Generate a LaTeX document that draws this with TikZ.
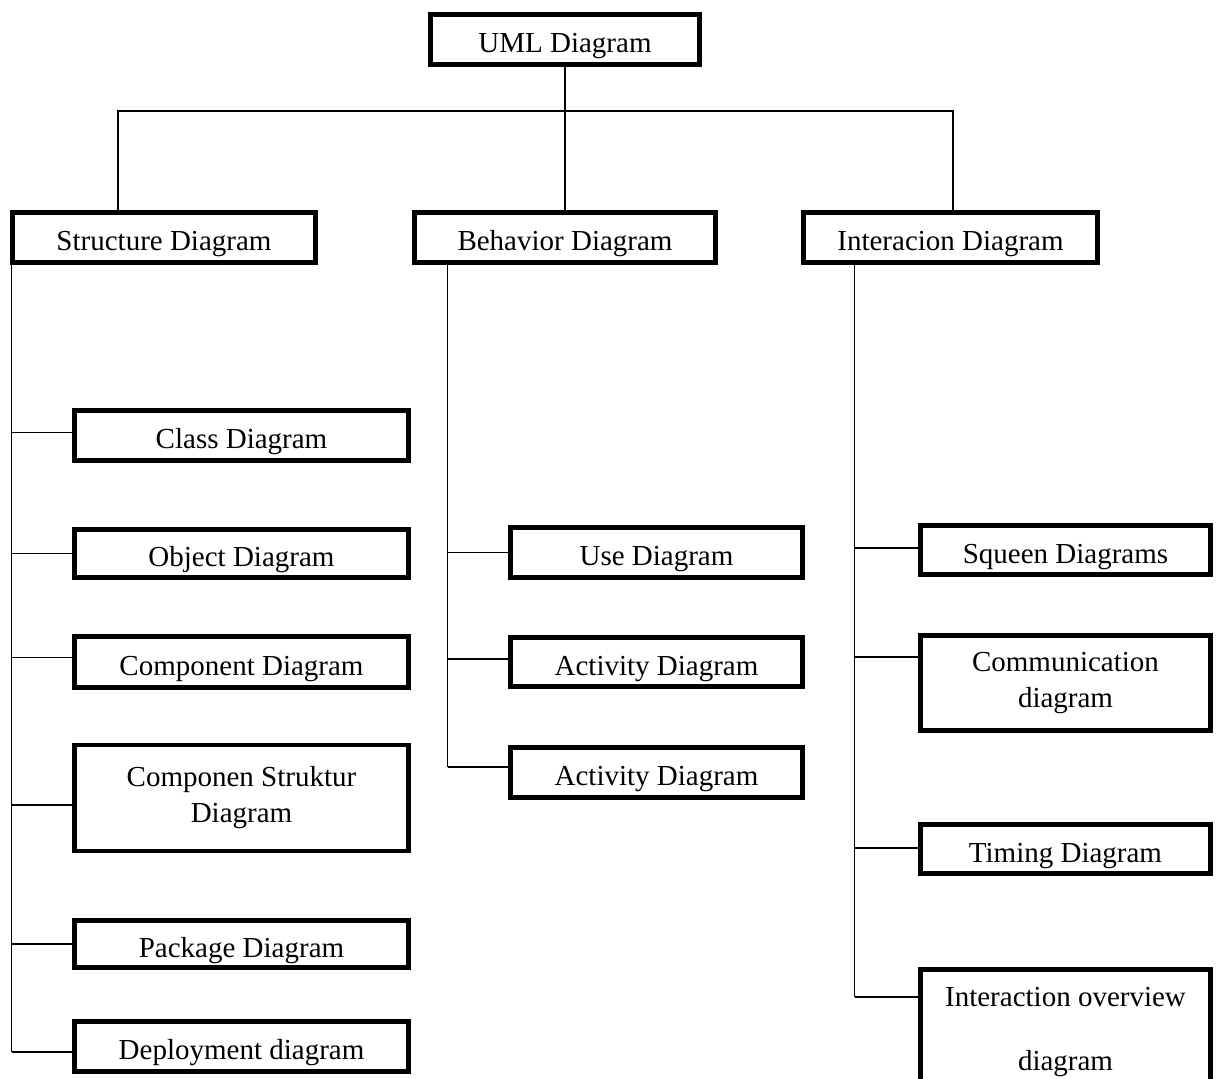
\documentclass[tikz,border=0pt]{standalone}
\usepackage{fontspec}
\setmainfont{Liberation Serif}
\usetikzlibrary{calc}

\begin{document}
\begin{tikzpicture}[x=1pt,y=-1pt,
    box/.style={draw, line width=4.8pt, inner sep=0pt, font=\fontsize{29}{36}\selectfont, text height=29pt, text depth=3pt},
    tallbox/.style={draw, line width=4.8pt, inner sep=0pt, font=\fontsize{29}{36}\selectfont, align=center},
    link/.style={line width=1.7pt}]
    \path[use as bounding box, clip] (0,0) rectangle (1216,1079);
    \def \sx {241.5} \def \bx {656.5} \def \ix {1065.5}

    % top row
    \node[box, minimum width=269pt, minimum height=50pt] (uml) at (565,39.5) {UML Diagram};
    \node[box, minimum width=303pt, minimum height=50pt] (st) at (164,237.5) {Structure Diagram};
    \node[box, minimum width=301pt, minimum height=50pt] (bh) at (565,237.5) {Behavior Diagram};
    \node[box, minimum width=294pt, minimum height=50pt] (ia) at (950.5,237.5) {Interacion Diagram};

    \coordinate (bar) at (565,111);
    \draw[link] (uml) -- (bh);
    \draw[link] ([xshift=-46pt]st.north) |- (bar) -| ([xshift=2.5pt]ia.north);

    % structure
    \node[box, minimum width=334pt, minimum height=50pt] (cl) at (\sx,435.5) {Class Diagram};
    \node[box, minimum width=334pt, minimum height=48pt] (ob) at (\sx,553.5) {Object Diagram};
    \node[box, minimum width=334pt, minimum height=51pt] (cp) at (\sx,662) {Component Diagram};
    \node[tallbox, minimum width=334pt, minimum height=106pt] (cs) at (\sx,798) {Componen Struktur\\Diagram};
    \node[box, minimum width=334pt, minimum height=47pt] (pk) at (\sx,944) {Package Diagram};
    \node[box, minimum width=334pt, minimum height=50pt] (dp) at (\sx,1046.5) {Deployment diagram};

    \foreach \s/\dy in {cl/-3, ob/0, cp/-4.5, cs/7, pk/0, dp/5.5}
        \coordinate (j\s) at ($(\s.west)+(0,\dy)$);
    \draw[link] ([xshift=1.5pt]st.south west) -- ([xshift=1.5pt]st.south west |- jdp);
    \foreach \s in {cl, ob, cp, cs, pk, dp}
        \draw[link] ([xshift=1.5pt]j\s -| st.south west) -- (j\s);

    % behavior
    \node[box, minimum width=292pt, minimum height=50pt] (us) at (\bx,552.5) {Use Diagram};
    \node[box, minimum width=292pt, minimum height=49pt] (ac) at (\bx,662) {Activity Diagram};
    \node[box, minimum width=292pt, minimum height=50pt] (ac2) at (\bx,772.5) {Activity Diagram};

    \coordinate (bt) at ($(bh.south west)+(35.5,0)$);
    \foreach \s/\dy in {us/0, ac/-3, ac2/-5.5}
        \coordinate (j\s) at ($(\s.west)+(0,\dy)$);
    \draw[link] (bt) -- (bt |- jac2);
    \foreach \s in {us, ac, ac2}
        \draw[link] (j\s -| bt) -- (j\s);

    % interaction
    \node[box, minimum width=290pt, minimum height=49pt] (sq) at (\ix,550) {Squeen Diagrams};
    \node[tallbox, minimum width=290pt, minimum height=95pt] (cm) at (\ix,683) {Communication\\diagram};
    \node[box, minimum width=290pt, minimum height=49pt] (tm) at (\ix,849) {Timing Diagram};
    \node[tallbox, font=\fontsize{29}{64}\selectfont, minimum width=290pt, minimum height=126pt] (io) at (\ix,1032.5) {Interaction overview\\diagram};

    \coordinate (it) at ($(ia.south west)+(53.5,0)$);
    \foreach \s/\dy in {sq/-2, cm/-26, tm/-1, io/-35.5}
        \coordinate (j\s) at ($(\s.west)+(0,\dy)$);
    \draw[link] (it) -- (it |- jio);
    \foreach \s in {sq, cm, tm, io}
        \draw[link] (j\s -| it) -- (j\s);
\end{tikzpicture}
\end{document}
